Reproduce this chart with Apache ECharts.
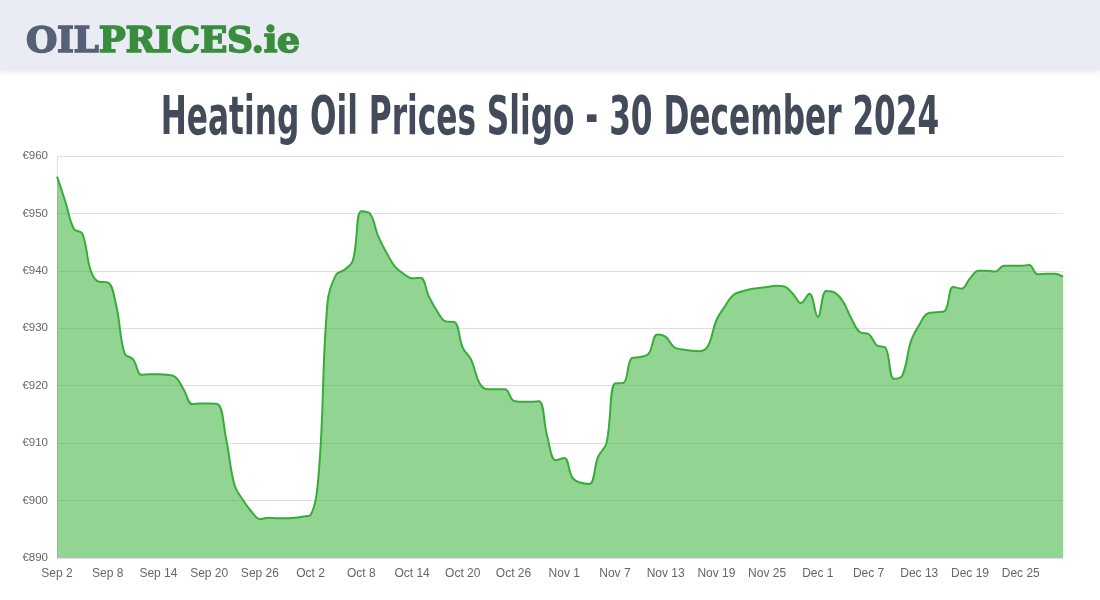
<!DOCTYPE html>
<html>
<head>
<meta charset="utf-8">
<script src="https://cdn.jsdelivr.net/npm/echarts@6/dist/echarts.min.js"></script>
<style>
  html, body { margin: 0; padding: 0; background: #fff; }
  #wrap { position: relative; width: 1100px; height: 600px; overflow: hidden; }
  #chart { position: absolute; left: 0; top: 0; width: 1100px; height: 600px; }
  #header { position: absolute; left: 0; top: 0; width: 1100px; height: 70px; background: #e9ecf3;
            box-shadow: 0 2px 6px rgba(0,0,0,0.10); z-index: 2; }
  #logo { position: absolute; left: 26px; top: 21px; font-family: "DejaVu Serif", serif; font-weight: bold;
          font-size: 36px; line-height: 37px; white-space: nowrap; letter-spacing: -0.3px; }
  #logo .a { color: #566076; -webkit-text-stroke: 1.6px #566076; }
  #logo .b { color: #3a8c3e; -webkit-text-stroke: 1.6px #3a8c3e; }
  #title { position: absolute; left: 0; width: 1100px; top: 95px; text-align: center; z-index: 2;
           font-family: "Liberation Sans Narrow", "DejaVu Sans Condensed", sans-serif; font-weight: bold;
           font-size: 40px; line-height: 40px; color: #434b5b; transform: scale(0.867, 1.33); white-space: nowrap; }
</style>
</head>
<body>
<div id="wrap">
  <div id="chart"></div>
  <div id="header"><div id="logo"><span class="a">OIL</span><span class="b">PRICES.ie</span></div></div>
  <div id="title">Heating Oil Prices Sligo - 30 December 2024</div>
</div>
<script>
const categories = [
  "Sep 2","Sep 3","Sep 4","Sep 5","Sep 6","Sep 7","Sep 8","Sep 9","Sep 10","Sep 11","Sep 12","Sep 13","Sep 14","Sep 15","Sep 16","Sep 17","Sep 18","Sep 19","Sep 20","Sep 21","Sep 22","Sep 23","Sep 24","Sep 25","Sep 26","Sep 27","Sep 28","Sep 29","Sep 30",
  "Oct 1","Oct 2","Oct 3","Oct 4","Oct 5","Oct 6","Oct 7","Oct 8","Oct 9","Oct 10","Oct 11","Oct 12","Oct 13","Oct 14","Oct 15","Oct 16","Oct 17","Oct 18","Oct 19","Oct 20","Oct 21","Oct 22","Oct 23","Oct 24","Oct 25","Oct 26","Oct 27","Oct 28","Oct 29","Oct 30","Oct 31",
  "Nov 1","Nov 2","Nov 3","Nov 4","Nov 5","Nov 6","Nov 7","Nov 8","Nov 9","Nov 10","Nov 11","Nov 12","Nov 13","Nov 14","Nov 15","Nov 16","Nov 17","Nov 18","Nov 19","Nov 20","Nov 21","Nov 22","Nov 23","Nov 24","Nov 25","Nov 26","Nov 27","Nov 28","Nov 29","Nov 30",
  "Dec 1","Dec 2","Dec 3","Dec 4","Dec 5","Dec 6","Dec 7","Dec 8","Dec 9","Dec 10","Dec 11","Dec 12","Dec 13","Dec 14","Dec 15","Dec 16","Dec 17","Dec 18","Dec 19","Dec 20","Dec 21","Dec 22","Dec 23","Dec 24","Dec 25","Dec 26","Dec 27","Dec 28","Dec 29","Dec 30"
];
const prices = [
  956.4, 952.0, 947.3, 946.5, 940.0, 938.1, 938.0, 934.0, 925.6, 924.6,
  921.9, 922.0, 922.0, 921.9, 921.5, 919.3, 916.8, 916.9, 916.9, 916.8,
  910.8, 902.7, 900.1, 898.1, 896.8, 897.0, 896.9, 896.9, 897.0, 897.2,
  897.5, 905.5, 934.5, 939.3, 940.2, 941.8, 950.4, 950.0, 946.0, 943.1,
  940.7, 939.5, 938.7, 938.8, 935.5, 932.9, 931.2, 931.1, 926.6, 924.5,
  920.4, 919.4, 919.4, 919.4, 917.4, 917.2, 917.2, 917.3, 911.1, 907.0,
  907.4, 903.9, 903.1, 902.9, 907.6, 910.0, 920.4, 920.5, 924.8, 925.0,
  925.6, 928.9, 928.5, 926.7, 926.3, 926.1, 926.0, 926.9, 931.4, 933.8,
  935.8, 936.4, 936.8, 937.0, 937.2, 937.4, 937.3, 936.1, 934.4, 936.0,
  932.0, 936.5, 936.2, 934.6, 931.6, 929.3, 929.0, 927.0, 926.6, 921.2,
  921.8, 927.7, 930.6, 932.6, 932.8, 933.0, 937.2, 936.9, 938.7, 940.0,
  940.0, 939.9, 940.9, 940.9, 940.9, 941.0, 939.4, 939.5, 939.5, 939.0
];
const yMin = 890, yMax = 960, yStep = 10;

const chart = echarts.init(document.getElementById('chart'), null, { renderer: 'canvas' });
chart.setOption({
  animation: false,
  grid: { left: 57, right: 37, top: 156, bottom: 42, containLabel: false },
  xAxis: {
    type: 'category',
    data: categories,
    boundaryGap: false,
    axisLine: { show: true, lineStyle: { color: '#e0e0e0' } },
    axisTick: { show: false },
    axisLabel: { interval: 5, color: '#666', fontSize: 12, margin: 10, fontFamily: 'Liberation Sans, Arial, sans-serif' },
    splitLine: { show: false }
  },
  yAxis: {
    type: 'value',
    min: yMin, max: yMax, interval: yStep,
    axisLine: { show: true, lineStyle: { color: '#e0e0e0' } },
    axisTick: { show: false },
    axisLabel: { color: '#666', fontSize: 11.5, margin: 9, fontFamily: 'Liberation Sans, Arial, sans-serif',
                 formatter: v => '€' + v },
    splitLine: { show: true, lineStyle: { color: '#e0e0e0', width: 1 } }
  },
  series: [{
    type: 'line',
    data: prices,
    smooth: 0.4,
    symbol: 'none',
    lineStyle: { color: '#38ac38', width: 2 },
    areaStyle: { color: 'rgb(37,171,37)', opacity: 0.5, origin: 'start' },
    z: 1
  }]
});
</script>
</body>
</html>
